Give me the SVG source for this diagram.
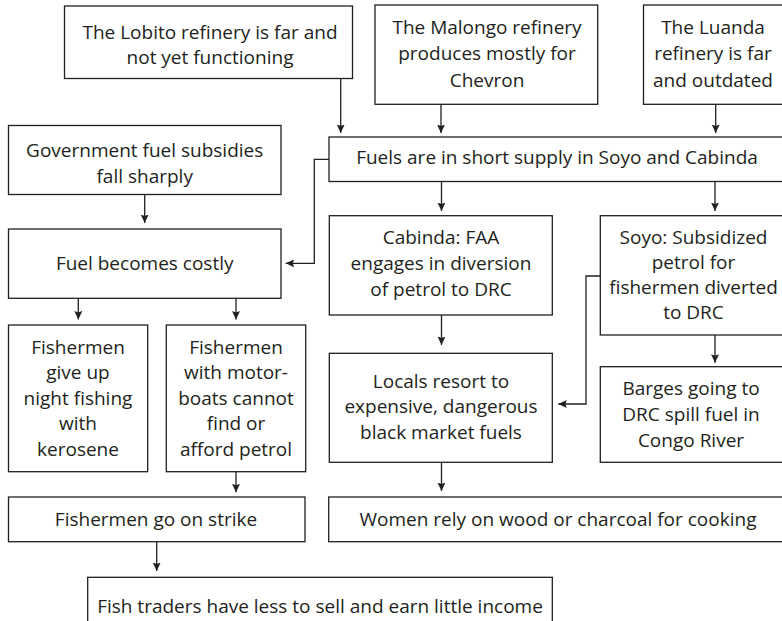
<svg xmlns="http://www.w3.org/2000/svg" width="782" height="621" viewBox="0 0 782 621">
<style>
.box{fill:#fff;stroke:#231f20;stroke-width:1.3}
.t{font-family:"Open Sans","Noto Sans",sans-serif;font-size:19px;fill:#231f20;text-anchor:middle}
.c{fill:none;stroke:#231f20;stroke-width:1.3}
</style>
<defs>
<marker id="ah" markerUnits="userSpaceOnUse" markerWidth="10" markerHeight="9" refX="8.5" refY="4" orient="auto">
<path d="M0,0 L8.5,4 L0,8 L1.5,4 z" fill="#231f20"/>
</marker>
</defs>
<rect width="782" height="621" fill="#fff"/>
<g id="connectors">
<path class="c" marker-end="url(#ah)" d="M340.7,78.5 V133"/>
<path class="c" marker-end="url(#ah)" d="M441,104.3 V133"/>
<path class="c" marker-end="url(#ah)" d="M715.7,104.3 V133"/>
<path class="c" marker-end="url(#ah)" d="M144.7,194.3 V223"/>
<path class="c" marker-end="url(#ah)" d="M329,159.3 H314.3 V263.3 H285.7"/>
<path class="c" marker-end="url(#ah)" d="M441.5,181.5 V211"/>
<path class="c" marker-end="url(#ah)" d="M715,181.5 V211"/>
<path class="c" marker-end="url(#ah)" d="M78.3,298.3 V319.5"/>
<path class="c" marker-end="url(#ah)" d="M236,298.3 V319.5"/>
<path class="c" marker-end="url(#ah)" d="M441.5,315 V345"/>
<path class="c" marker-end="url(#ah)" d="M600.3,276 H586 V404 H558.3"/>
<path class="c" marker-end="url(#ah)" d="M715,335 V362.7"/>
<path class="c" marker-end="url(#ah)" d="M236,471.7 V492.3"/>
<path class="c" marker-end="url(#ah)" d="M441.5,462.3 V491"/>
<path class="c" marker-end="url(#ah)" d="M156.7,541.7 V571"/>
</g>
<g id="lobito"><rect class="box" x="64.5" y="6" width="288" height="72.5"/><text class="t" x="210"><tspan x="210" y="38.5">The Lobito refinery is far and</tspan><tspan x="210" y="63.5">not yet functioning</tspan></text></g>
<g id="malongo"><rect class="box" x="375" y="5" width="222.7" height="99.3"/><text class="t"><tspan x="487" y="33.5">The Malongo refinery</tspan><tspan x="487" y="60">produces mostly for</tspan><tspan x="487" y="86.5">Chevron</tspan></text></g>
<g id="luanda"><rect class="box" x="643.5" y="5" width="142.5" height="99.3"/><text class="t"><tspan x="713" y="33.5">The Luanda</tspan><tspan x="713" y="60">refinery is far</tspan><tspan x="713" y="86.5">and outdated</tspan></text></g>
<g id="gov"><rect class="box" x="8.5" y="125.5" width="272.5" height="69"/><text class="t"><tspan x="144.7" y="156.5">Government fuel subsidies</tspan><tspan x="144.7" y="182.5">fall sharply</tspan></text></g>
<g id="fuels"><rect class="box" x="329" y="137" width="457" height="44.5"/><text class="t" x="557" y="163.5">Fuels are in short supply in Soyo and Cabinda</text></g>
<g id="costly"><rect class="box" x="8.5" y="229" width="272.5" height="69.3"/><text class="t" x="144.7" y="270">Fuel becomes costly</text></g>
<g id="fish1"><rect class="box" x="8.5" y="325" width="139.2" height="146.7"/><text class="t"><tspan x="78" y="353.5">Fishermen</tspan><tspan x="78" y="379">give up</tspan><tspan x="78" y="404.5">night fishing</tspan><tspan x="78" y="430">with</tspan><tspan x="78" y="455.5">kerosene</tspan></text></g>
<g id="fish2"><rect class="box" x="166.3" y="325" width="139.4" height="146.7"/><text class="t"><tspan x="236" y="353.5">Fishermen</tspan><tspan x="236" y="379">with motor-</tspan><tspan x="236" y="404.5">boats cannot</tspan><tspan x="236" y="430">find or</tspan><tspan x="236" y="455.5">afford petrol</tspan></text></g>
<g id="cabinda"><rect class="box" x="329.3" y="215.7" width="223" height="99.3"/><text class="t"><tspan x="441" y="243.5">Cabinda: FAA</tspan><tspan x="441" y="269.5">engages in diversion</tspan><tspan x="441" y="295.5">of petrol to DRC</tspan></text></g>
<g id="soyo"><rect class="box" x="600.3" y="215.7" width="186" height="119.3"/><text class="t"><tspan x="693.5" y="243.5">Soyo: Subsidized</tspan><tspan x="693.5" y="268.5">petrol for</tspan><tspan x="693.5" y="293.5">fishermen diverted</tspan><tspan x="693.5" y="318.5">to DRC</tspan></text></g>
<g id="locals"><rect class="box" x="329.3" y="353.3" width="223" height="109"/><text class="t"><tspan x="441" y="387.5">Locals resort to</tspan><tspan x="441" y="413">expensive, dangerous</tspan><tspan x="441" y="438.5">black market fuels</tspan></text></g>
<g id="barges"><rect class="box" x="600.3" y="366.7" width="186" height="95.6"/><text class="t"><tspan x="691" y="395">Barges going to</tspan><tspan x="691" y="420.7">DRC spill fuel in</tspan><tspan x="691" y="446.7">Congo River</tspan></text></g>
<g id="strike"><rect class="box" x="8.5" y="497" width="296.5" height="44.7"/><text class="t" x="156" y="526">Fishermen go on strike</text></g>
<g id="women"><rect class="box" x="328.7" y="497" width="457.3" height="44.7"/><text class="t" x="558" y="526">Women rely on wood or charcoal for cooking</text></g>
<g id="traders"><rect class="box" x="87.7" y="577.3" width="464.6" height="60"/><text class="t" x="320" y="613.3">Fish traders have less to sell and earn little income</text></g>
</svg>
